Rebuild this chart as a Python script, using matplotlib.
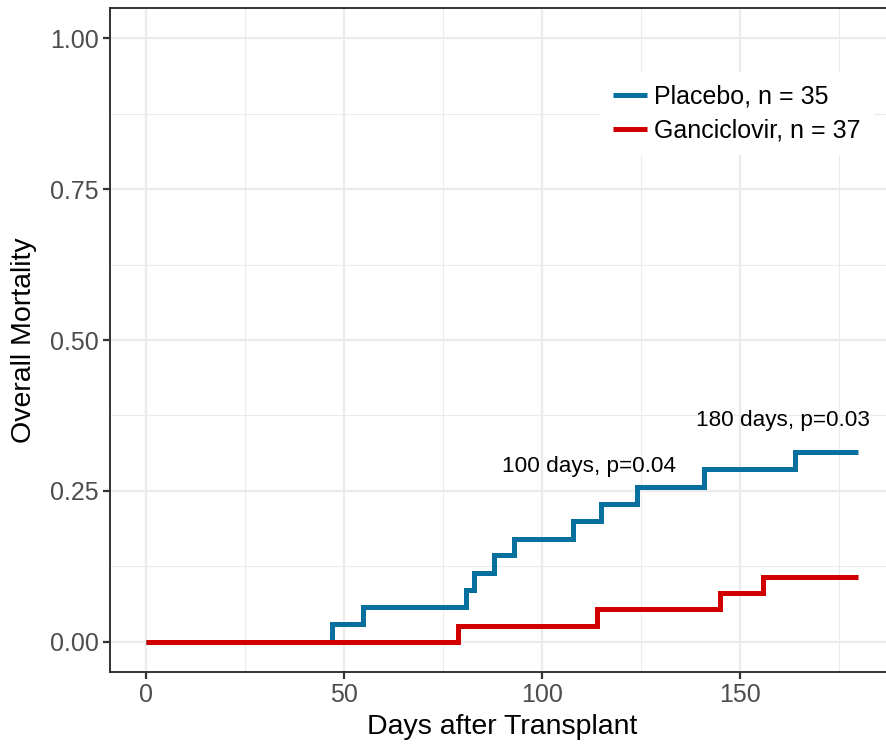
import matplotlib
matplotlib.use("Agg")
import matplotlib.pyplot as plt
from matplotlib.ticker import MultipleLocator

plt.rcParams["font.family"] = ["Liberation Sans", "DejaVu Sans"]

# cumulative mortality curves (step functions)
placebo_days = [0, 47, 55, 81, 83, 88, 93, 108, 115, 124, 141, 164, 180]
placebo_mort = [0.0, 0.029, 0.057, 0.086, 0.114, 0.143, 0.171, 0.200, 0.229,
                0.257, 0.286, 0.314, 0.314]
ganciclovir_days = [0, 79, 114, 145, 156, 180]
ganciclovir_mort = [0.0, 0.027, 0.054, 0.081, 0.108, 0.108]

group_labels = ["Placebo, n = 35", "Ganciclovir, n = 37"]
group_colors = ["#08709E", "#D00000"]

notes = ["100 days, p=0.04", "180 days, p=0.03"]
note_x = [112, 161]
note_y = [0.291, 0.367]

W, H = 886, 744
fig = plt.figure(figsize=(W / 100, H / 100), dpi=100)
ax = fig.add_axes([110 / W, 72 / H, 784 / W, 664 / H])

for days, mort, lab, col in zip([placebo_days, ganciclovir_days],
                                [placebo_mort, ganciclovir_mort],
                                group_labels, group_colors):
    ax.step(days, mort, where="post", color=col, lw=3.6, label=lab,
            solid_capstyle="butt", solid_joinstyle="miter", zorder=3)

for txt, x, y in zip(notes, note_x, note_y):
    ax.text(x, y, txt, ha="center", va="center", fontsize=16.2, color="black")

ax.set_xlim(-9, 189)
ax.set_ylim(-0.05, 1.05)
ax.xaxis.set_major_locator(MultipleLocator(50))
ax.xaxis.set_minor_locator(MultipleLocator(25))
ax.yaxis.set_major_locator(MultipleLocator(0.25))
ax.yaxis.set_minor_locator(MultipleLocator(0.125))
ax.yaxis.set_major_formatter(plt.FuncFormatter(lambda v, p: f"{v:.2f}"))

ax.grid(which="major", color="#EBEBEB", lw=1.6, zorder=0)
ax.grid(which="minor", color="#EBEBEB", lw=0.8, zorder=0)
ax.set_axisbelow(True)

for s in ax.spines.values():
    s.set_color("#333333")
    s.set_linewidth(1.4)
ax.spines["right"].set_visible(False)

ax.tick_params(which="major", length=5, width=1.6, color="#333333",
               labelsize=18, labelcolor="#4D4D4D", pad=3)
ax.tick_params(which="minor", length=0)

ax.set_xlabel("Days after Transplant", fontsize=20.5)
ax.set_ylabel("Overall Mortality", fontsize=20.5)
ax.xaxis.set_label_coords(0.5, -0.064)
ax.yaxis.set_label_coords(-0.093, 0.5)

leg = ax.legend(loc="center left", bbox_to_anchor=(600 / W, 1 - 113.5 / H),
                bbox_transform=fig.transFigure, fontsize=18,
                handlelength=1.36, handletextpad=0.32, labelspacing=0.4,
                borderpad=0.5, borderaxespad=0, frameon=True, fancybox=False)
leg.get_frame().set_facecolor("white")
leg.get_frame().set_edgecolor("none")
leg.get_frame().set_alpha(1)

fig.savefig("out.png", dpi=100)
